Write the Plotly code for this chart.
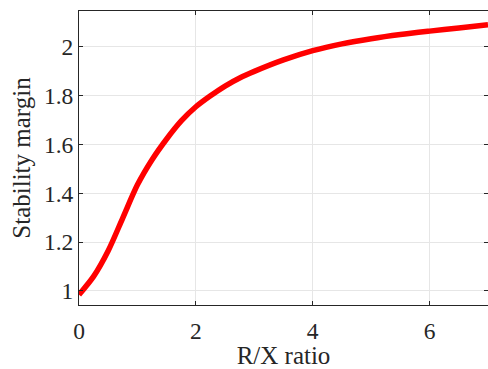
import plotly.graph_objects as go

# R/X ratio vs. stability margin
rx_ratio = [0, 0.25, 0.5, 0.75, 1.0, 1.25, 1.5, 1.75, 2.0, 2.25, 2.5, 2.75,
            3.0, 3.5, 4.0, 4.5, 5.0, 5.5, 6.0, 6.5, 7.0]
stability_margin = [0.985, 1.06, 1.165, 1.30, 1.435, 1.538, 1.623, 1.697, 1.755,
                    1.80, 1.84, 1.873, 1.90, 1.947, 1.985, 2.013, 2.034, 2.051,
                    2.065, 2.078, 2.091]

x_ticks = [0, 2, 4, 6]
y_ticks = [1, 1.2, 1.4, 1.6, 1.8, 2]
y_tick_text = ["1", "1.2", "1.4", "1.6", "1.8", "2"]

font_family = "Liberation Serif, Times New Roman, serif"
axis_color = "#262626"
grid_color = "#e6e6e6"

fig = go.Figure()
fig.add_trace(go.Scatter(
    x=rx_ratio, y=stability_margin, mode="lines",
    line=dict(color="#ff0000", width=5.5, shape="spline", smoothing=0.8),
    showlegend=False, hoverinfo="skip",
))

tick_font = dict(family=font_family, size=23.5, color=axis_color)
title_font = dict(family=font_family, size=25, color=axis_color)

fig.update_xaxes(
    range=[0, 7], tickmode="array", tickvals=x_ticks,
    ticktext=[str(v) for v in x_ticks], tickfont=tick_font,
    title=dict(text="R/X ratio", font=title_font, standoff=11),
    ticklabelstandoff=5, automargin=False,
    showline=True, linecolor=axis_color, linewidth=1, mirror="ticks",
    ticks="inside", ticklen=4, tickcolor=axis_color, tickwidth=1,
    showgrid=True, gridcolor=grid_color, gridwidth=1, zeroline=False,
)
fig.update_yaxes(
    range=[0.9426, 2.1475], tickmode="array", tickvals=y_ticks,
    ticktext=y_tick_text, tickfont=tick_font,
    title=dict(text="Stability margin", font=title_font, standoff=6),
    automargin=False,
    showline=True, linecolor=axis_color, linewidth=1, mirror="ticks",
    ticks="inside", ticklen=4, tickcolor=axis_color, tickwidth=1,
    showgrid=True, gridcolor=grid_color, gridwidth=1, zeroline=False,
)

fig.update_layout(
    width=488, height=369,
    margin=dict(l=79, r=0, t=11, b=64),
    font=dict(family=font_family, size=22, color=axis_color),
    paper_bgcolor="white", plot_bgcolor="white",
)

fig.write_html("out.html")
